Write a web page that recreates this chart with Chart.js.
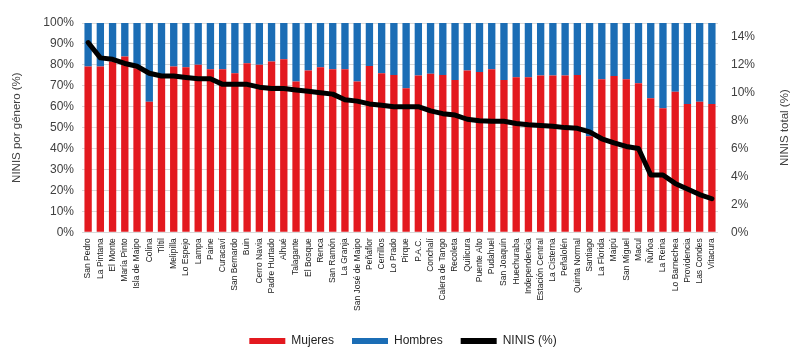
<!DOCTYPE html>
<html>
<head>
<meta charset="utf-8">
<script src="https://cdn.jsdelivr.net/npm/chart.js@4.4.0/dist/chart.umd.min.js"></script>
<style>
html,body{margin:0;padding:0;background:#fff;}
#wrap{width:800px;height:361px;}
</style>
</head>
<body>
<div id="wrap"><canvas id="c" width="800" height="361"></canvas></div>
<script>
const categories = ["San Pedro","La Pintana","El Monte","María Pinto","Isla de Maipo","Colina","Tiltil","Melipilla","Lo Espejo","Lampa","Paine","Curacaví","San Bernardo","Buin","Cerro Navia","Padre Hurtado","Alhué","Talagante","El Bosque","Renca","San Ramón","La Granja","San José de Maipo","Peñaflor","Cerrillos","Lo Prado","Pirque","P.A.C.","Conchalí","Calera de Tango","Recoleta","Quilicura","Puente Alto","Pudahuel","San Joaquín","Huechuraba","Independencia","Estación Central","La Cisterna","Peñalolén","Quinta Normal","Santiago","La Florida","Maipú","San Miguel","Macul","Ñuñoa","La Reina","Lo Barnechea","Providencia","Las Condes","Vitacura"];
const mujeres = [79.2,79.2,81.6,84.0,78.4,62.4,75.2,79.2,78.9,80.0,77.9,77.9,76.0,80.8,80.0,81.6,82.7,72.0,77.3,78.9,77.9,77.9,72.0,79.5,76.0,75.2,68.8,74.9,75.7,75.2,72.8,77.3,76.6,77.9,72.8,74.1,74.1,74.9,74.9,74.9,75.2,45.9,73.1,74.7,73.1,71.2,64.0,59.2,67.2,61.3,62.4,61.3];
const hombres = mujeres.map(v => +(100 - v).toFixed(1));
const ninis = [13.6,12.5,12.4,12.1,11.9,11.4,11.2,11.2,11.1,11.0,11.0,10.6,10.6,10.6,10.4,10.3,10.3,10.2,10.1,10.0,9.9,9.5,9.4,9.2,9.1,9.0,9.0,9.0,8.7,8.5,8.4,8.1,8.0,7.95,7.95,7.8,7.7,7.65,7.6,7.5,7.45,7.2,6.7,6.4,6.15,6.0,4.1,4.1,3.5,3.1,2.7,2.4];
const leftTicks = [0,10,20,30,40,50,60,70,80,90,100];
const rightTicks = [0,2,4,6,8,10,12,14];
const rightTitle = 'NINIS total (%)';

const FONT = "'Liberation Sans', Arial, sans-serif";
const TXT = '#404040';

const rightTitlePlugin = {
  id:'rightTitle',
  afterDraw(chart){
    const ctx = chart.ctx, ca = chart.chartArea;
    ctx.save();
    ctx.translate(785, (ca.top + ca.bottom)/2);
    ctx.rotate(-Math.PI/2);
    ctx.font = '11.5px ' + FONT;
    ctx.fillStyle = TXT;
    ctx.textAlign = 'center';
    ctx.textBaseline = 'middle';
    ctx.fillText(rightTitle, 0, 0);
    ctx.restore();
  }
};

new Chart(document.getElementById('c'), {
  data: {
    labels: categories,
    datasets: [
      {type:'bar', label:'Mujeres', data: mujeres, backgroundColor:'#e3191f', yAxisID:'y', order:1, barPercentage:0.6, categoryPercentage:1.0},
      {type:'bar', label:'Hombres', data: hombres, backgroundColor:'#1b6db5', yAxisID:'y', order:1, barPercentage:0.6, categoryPercentage:1.0},
      {type:'line', label:'NINIS (%)', data: ninis, borderColor:'#000', backgroundColor:'#000', borderWidth:5, pointRadius:0, tension:0, yAxisID:'y1', order:0, borderCapStyle:'round', borderJoinStyle:'round'}
    ]
  },
  plugins:[rightTitlePlugin],
  options: {
    responsive:false,
    animation:false,
    layout:{padding:{top:23,left:6,right:0,bottom:4}},
    plugins:{
      tooltip:{enabled:false},
      legend:{
        position:'bottom',
        labels:{
          font:{family:FONT,size:12},
          color:'#222',
          boxWidth:36,
          boxHeight:6,
          padding:18,
          sort:(a,b)=>a.datasetIndex-b.datasetIndex,
          generateLabels:(chart)=>Chart.defaults.plugins.legend.labels.generateLabels(chart).map(l=>{l.lineWidth = 0; return l;})
        }
      }
    },
    scales:{
      x:{
        stacked:true,
        grid:{display:false, drawTicks:false},
        border:{display:false},
        ticks:{autoSkip:false, minRotation:90, maxRotation:90, font:{family:FONT,size:8.5}, color:'#222', padding:6}
      },
      y:{
        stacked:true,
        min:0, max:100,
        afterBuildTicks:(ax)=>{ax.ticks = leftTicks.map(v=>({value:v}));},
        afterFit:(ax)=>{ax.width = 76;},
        grid:{color:'#d9d9d9', drawTicks:false},
        border:{display:false},
        ticks:{callback:v=>v+'%', font:{family:FONT,size:12}, color:TXT, padding:8},
        title:{display:true, text:'NINIS por género (%)', font:{family:FONT,size:11.5}, color:TXT, padding:{bottom:8}}
      },
      y1:{
        position:'right',
        stacked:false,
        min:0, max:15,
        afterBuildTicks:(ax)=>{ax.ticks = rightTicks.map(v=>({value:v}));},
        afterFit:(ax)=>{ax.width = 82;},
        grid:{display:false, drawTicks:false},
        border:{display:false},
        ticks:{callback:v=>v+'%', font:{family:FONT,size:12}, color:TXT, padding:13}
      }
    }
  }
});
</script>
</body>
</html>
